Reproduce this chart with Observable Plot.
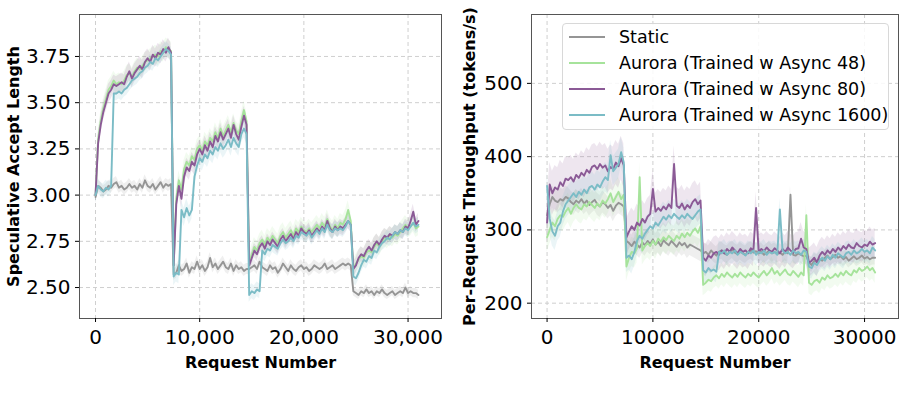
<!DOCTYPE html>
<html><head><meta charset="utf-8">
<script src="https://cdn.jsdelivr.net/npm/d3@7"></script>
<script src="https://cdn.jsdelivr.net/npm/@observablehq/plot@0.6"></script>
<style>
body{margin:0;background:#fff;font-family:"DejaVu Sans",sans-serif;}
#wrap{position:relative;width:921px;height:402px;overflow:hidden;}
#left{position:absolute;left:0;top:0;}
#right{position:absolute;left:460px;top:0;}
.legend{position:absolute;left:562px;top:23px;width:327px;height:107px;border:1px solid #d8d8d8;border-radius:4px;background:rgba(255,255,255,0.85);box-sizing:border-box;}
.row{position:absolute;left:6px;height:26px;display:flex;align-items:center;font-size:17.5px;color:#000;white-space:nowrap;}
.sw{width:36px;height:0;border-top:2px solid;margin-right:14px;}
</style>
</head><body>
<div id="wrap"><div id="left"></div><div id="right"></div><div class="legend" id="legend"></div></div>
<script>
// ---------- data ----------
const seriesNames = ["Static", "Aurora (Trained w Async 48)", "Aurora (Trained w Async 80)", "Aurora (Trained w Async 1600)"];
const seriesColors = ["#959595", "#a6e39b", "#8b5a96", "#7bbcc6"];
const requestStep = 250;            // request numbers 0..31000
const phaseStarts = [0, 7500, 14750, 24750];
const xTicks = [0, 10000, 20000, 30000];
const accTicks = [2.5, 2.75, 3.0, 3.25, 3.5, 3.75];
const thrTicks = [200, 300, 400, 500];

// Speculative accept length (left)
const accStatic = [
 [2.99,3.05,3.04,3.02,3.03,3.05,3.04,3.06,3.07,3.04,3.05,3.03,3.04,3.06,3.04,3.05,3.03,3.06,3.04,3.08,3.05,3.04,3.06,3.03,3.05,3.07,3.04,3.06,3.05,3.06],
 [2.57,2.58,2.62,2.59,2.60,2.63,2.58,2.61,2.60,2.64,2.60,2.62,2.59,2.61,2.66,2.61,2.63,2.60,2.62,2.64,2.61,2.60,2.63,2.59,2.62,2.60,2.61,2.59,2.60],
 [2.60,2.61,2.62,2.60,2.64,2.61,2.60,2.59,2.62,2.60,2.61,2.58,2.60,2.63,2.61,2.59,2.62,2.60,2.59,2.61,2.62,2.60,2.61,2.59,2.60,2.62,2.61,2.60,2.61,2.63,2.60,2.61,2.62,2.60,2.61,2.62,2.63,2.62,2.63,2.62],
 [2.48,2.47,2.46,2.48,2.47,2.49,2.47,2.48,2.46,2.48,2.47,2.49,2.47,2.46,2.47,2.48,2.46,2.47,2.48,2.47,2.50,2.47,2.48,2.47,2.47,2.46]
].flat();
const accAsync48 = [
 [3.00,3.30,3.40,3.47,3.52,3.57,3.59,3.62,3.60,3.61,3.60,3.62,3.65,3.66,3.64,3.67,3.69,3.68,3.70,3.72,3.73,3.74,3.75,3.76,3.75,3.78,3.77,3.80,3.79,3.78],
 [2.62,2.98,3.08,3.03,3.14,3.18,3.16,3.21,3.19,3.25,3.27,3.24,3.29,3.27,3.31,3.29,3.34,3.31,3.36,3.32,3.35,3.38,3.34,3.39,3.35,3.33,3.40,3.46,3.40],
 [2.63,2.68,2.72,2.70,2.74,2.76,2.73,2.77,2.75,2.78,2.76,2.74,2.78,2.80,2.77,2.79,2.81,2.78,2.82,2.80,2.83,2.81,2.80,2.82,2.80,2.82,2.84,2.82,2.85,2.83,2.87,2.83,2.81,2.84,2.82,2.85,2.84,2.87,2.92,2.86],
 [2.60,2.63,2.65,2.67,2.66,2.69,2.70,2.69,2.72,2.74,2.72,2.75,2.77,2.76,2.78,2.77,2.79,2.78,2.80,2.82,2.84,2.82,2.83,2.85,2.82,2.83]
].flat();
const accAsync80 = [
 [3.00,3.28,3.38,3.45,3.50,3.55,3.57,3.60,3.59,3.60,3.61,3.60,3.64,3.67,3.63,3.66,3.68,3.70,3.68,3.72,3.74,3.72,3.76,3.74,3.77,3.76,3.79,3.77,3.80,3.77],
 [2.62,2.95,3.05,2.98,3.10,3.15,3.13,3.18,3.16,3.22,3.25,3.22,3.27,3.24,3.29,3.26,3.32,3.29,3.34,3.30,3.33,3.36,3.31,3.38,3.33,3.30,3.37,3.43,3.38],
 [2.62,2.66,2.70,2.68,2.72,2.74,2.71,2.75,2.73,2.76,2.74,2.72,2.76,2.78,2.75,2.77,2.79,2.76,2.80,2.78,2.82,2.80,2.79,2.81,2.78,2.80,2.82,2.80,2.83,2.81,2.86,2.82,2.80,2.83,2.81,2.83,2.82,2.84,2.86,2.84],
 [2.60,2.62,2.66,2.68,2.67,2.70,2.72,2.70,2.73,2.75,2.73,2.76,2.78,2.77,2.79,2.78,2.80,2.79,2.81,2.80,2.83,2.82,2.86,2.91,2.84,2.86]
].flat();
const accAsync1600 = [
 [3.00,3.05,3.03,3.02,3.04,3.03,3.05,3.55,3.55,3.56,3.55,3.57,3.58,3.60,3.62,3.63,3.64,3.66,3.67,3.69,3.70,3.72,3.71,3.74,3.73,3.75,3.77,3.79,3.78,3.76],
 [2.56,2.58,2.57,2.92,2.88,2.93,2.89,2.92,3.10,3.16,3.20,3.18,3.22,3.20,3.24,3.22,3.26,3.24,3.28,3.25,3.27,3.30,3.26,3.31,3.28,3.26,3.33,3.36,3.33],
 [2.46,2.48,2.47,2.49,2.48,2.70,2.68,2.71,2.70,2.73,2.72,2.71,2.74,2.76,2.74,2.75,2.77,2.75,2.78,2.77,2.80,2.79,2.78,2.80,2.77,2.79,2.81,2.79,2.82,2.80,2.84,2.81,2.80,2.82,2.81,2.82,2.81,2.83,2.86,2.84],
 [2.56,2.55,2.58,2.62,2.65,2.64,2.67,2.66,2.70,2.69,2.72,2.74,2.75,2.77,2.76,2.78,2.80,2.79,2.81,2.80,2.82,2.81,2.83,2.85,2.83,2.84]
].flat();
// band half-widths per phase
const accSpread = [[0.03,0.03,0.03,0.025],[0.05,0.05,0.05,0.05],[0.05,0.05,0.04,0.04],[0.04,0.05,0.04,0.04]];

// Per-request throughput (right)
const thrStatic = [
 [320,335,345,340,338,342,340,345,343,338,335,340,337,342,336,340,334,338,341,335,332,338,335,330,334,326,333,337,335,332],
 [285,282,278,284,280,276,283,279,285,281,287,280,284,278,286,282,279,285,281,277,283,279,282,276,280,278,276,274,272],
 [268,270,266,272,268,265,270,272,268,266,270,273,269,267,271,268,266,270,272,269,271,268,270,266,269,272,268,270,267,269,266,270,268,348,266,265,268,266,264,265],
 [255,252,258,256,260,258,262,265,260,263,266,262,264,260,263,258,261,264,260,262,265,261,263,260,262,262]
].flat();
const thrAsync48 = [
 [290,300,310,305,315,320,318,325,330,322,330,335,330,328,335,332,338,334,330,336,332,340,336,342,350,338,345,352,342,348],
 [250,262,270,268,275,372,272,278,282,278,285,280,288,284,290,286,292,288,285,292,288,295,290,296,292,298,302,296,305],
 [225,228,232,230,235,238,234,240,236,242,238,235,240,236,242,238,235,240,237,242,238,235,240,244,238,242,248,240,244,238,242,246,240,238,244,240,236,242,238,320],
 [228,225,230,232,228,235,232,238,234,236,240,236,242,238,244,240,238,245,242,248,244,246,250,245,248,242]
].flat();
const thrAsync80 = [
 [310,362,350,358,355,365,360,370,368,372,366,375,371,378,374,382,378,386,388,383,390,385,388,380,386,383,392,387,398,388],
 [290,298,305,300,310,306,315,310,318,322,356,325,330,326,332,328,335,330,390,333,330,336,328,334,330,338,342,335,340],
 [262,258,265,262,268,270,266,272,268,274,270,276,272,268,274,270,272,268,275,272,330,270,274,271,276,272,270,275,272,268,274,270,276,272,269,274,275,288,276,274],
 [255,258,262,256,265,270,266,272,268,274,270,276,272,278,274,280,276,275,282,278,276,280,278,284,280,282]
].flat();
const thrAsync1600 = [
 [360,315,298,292,305,310,325,335,340,345,350,345,352,348,355,350,358,360,355,362,358,366,372,368,402,380,385,390,406,392],
 [262,265,260,270,285,292,288,295,300,305,302,310,306,312,318,314,320,316,322,318,315,320,316,322,318,315,320,325,328],
 [245,242,248,244,246,243,270,268,272,266,270,268,272,266,270,268,265,270,268,272,266,270,268,272,266,270,268,270,266,328,272,268,270,266,272,268,270,266,272,270],
 [250,248,255,252,258,262,258,264,260,266,262,268,265,262,268,270,266,272,268,270,274,270,272,268,276,272]
].flat();
const thrSpread = [[15,15,12,10],[20,20,15,15],[30,25,22,20],[20,20,15,15]];

// ---------- build rows ----------
function phaseOf(x){ let p = 0; phaseStarts.forEach((s,i)=>{ if (x >= s) p = i; }); return p; }
function rows(seriesArrays, spreads){
  const out = [];
  seriesArrays.forEach((arr, k) => {
    arr.forEach((v, i) => {
      const x = i * requestStep, s = spreads[k][phaseOf(x)];
      out.push({series: seriesNames[k], x, y: v, lo: v - s, hi: v + s});
    });
  });
  return out;
}
const accRows = rows([accStatic, accAsync48, accAsync80, accAsync1600], accSpread);
const thrRows = rows([thrStatic, thrAsync48, thrAsync80, thrAsync1600], thrSpread);

function panel({data, xDomain, yDomain, yTicks, xFmt, yFmt, yLabel, marginLeft, marginRight, width, ylabelOffset}){
  const p = Plot.plot({
    width, height: 380, marginTop: 14, marginBottom: 62, marginLeft, marginRight,
    style: {fontFamily: "DejaVu Sans", fontSize: "20px", color: "#000", background: "transparent"},
    x: {domain: xDomain},
    y: {domain: yDomain},
    color: {domain: seriesNames, range: seriesColors},
    marks: [
      Plot.gridX(xTicks, {stroke: "#cfcfcf", strokeOpacity: 1, strokeDasharray: "4,3"}),
      Plot.gridY(yTicks, {stroke: "#cfcfcf", strokeOpacity: 1, strokeDasharray: "4,3"}),
      Plot.areaY(data, {x: "x", y1: "lo", y2: "hi", z: "series", fill: "series", fillOpacity: 0.15}),
      Plot.line(data, {x: "x", y: "y", z: "series", stroke: "series", strokeWidth: 1.9}),
      Plot.frame({stroke: "#555", strokeWidth: 1}),
      Plot.axisX(xTicks, {tickFormat: xFmt, tickSize: 4, tickPadding: 7, label: "Request Number", labelAnchor: "center", labelOffset: 49}),
      Plot.axisY(yTicks, {tickFormat: yFmt, tickSize: 4, tickPadding: 5, label: yLabel, labelAnchor: "center", labelOffset: ylabelOffset})
    ]
  });
  d3.select(p).selectAll('g[aria-label="x-axis label"] text, g[aria-label="y-axis label"] text')
    .style("font-size", "16px").style("font-weight", "bold");
  d3.select(p).select('g[aria-label="x-axis label"] text').text("Request Number");
  d3.select(p).select('g[aria-label="y-axis label"] text').text(yLabel);
  return p;
}

document.getElementById("left").appendChild(panel({
  data: accRows, xDomain: [-1538, 33211], yDomain: [2.3325, 3.977], yTicks: accTicks,
  xFmt: d3.format(","), yFmt: d3.format(".2f"), yLabel: "Speculative Accept Length",
  marginLeft: 79, marginRight: 19, width: 460, ylabelOffset: 72
}));
document.getElementById("right").appendChild(panel({
  data: thrRows, xDomain: [-1472, 33208], yDomain: [179.1, 594], yTicks: thrTicks,
  xFmt: d => String(d), yFmt: d => String(d), yLabel: "Per-Request Throughput (tokens/s)",
  marginLeft: 71, marginRight: 23, width: 461, ylabelOffset: 68
}));

// legend
const lg = d3.select("#legend");
seriesNames.forEach((n, i) => {
  const r = lg.append("div").attr("class", "row").style("top", (0 + i * 25.9) + "px");
  r.append("div").attr("class", "sw").style("border-top-color", seriesColors[i]);
  r.append("span").text(n);
});
</script>
</body></html>
